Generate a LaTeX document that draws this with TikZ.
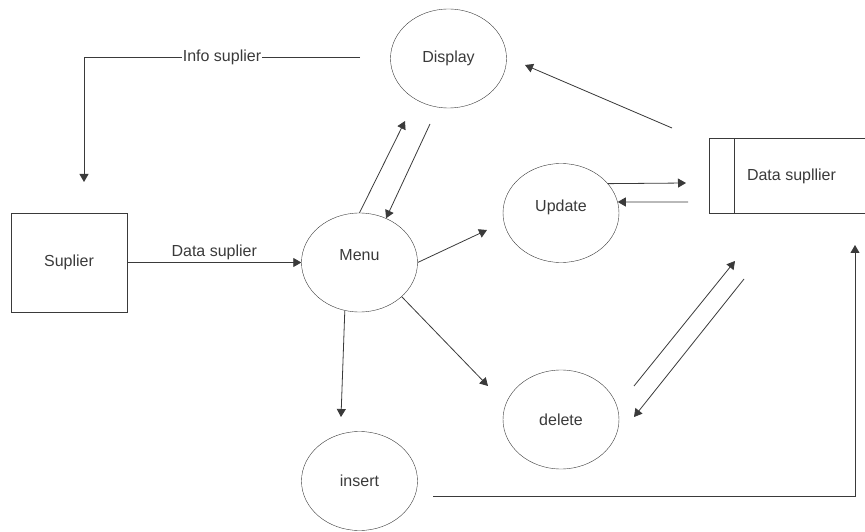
\documentclass[tikz,border=0pt]{standalone}
\usepackage{fontspec}
\setmainfont{Liberation Sans}
\usetikzlibrary{shapes.geometric, arrows.meta}
\definecolor{ink}{HTML}{3A3A3A}
\tikzstyle{proc} = [ellipse, minimum width=116pt, minimum height=99pt, inner sep=0pt, draw=ink, text=ink]
\tikzstyle{extent} = [rectangle, minimum width=116pt, minimum height=99pt, inner sep=0pt, draw=ink, text=ink]
\tikzstyle{store} = [rectangle, minimum width=163pt, minimum height=74pt, inner sep=0pt, text=ink]
\tikzstyle{arrow} = [line width=0.8pt, draw=ink, -{Triangle[length=8pt,width=9pt]}]

\begin{document}
\begin{tikzpicture}[x=1pt, y=1pt, font=\fontsize{16}{19}\selectfont]
\useasboundingbox (0,0) rectangle (865,531);

%Boxes
\node (display) [proc] at (448.5,472.5) {Display};
\node (menu) [proc] at (359.5,268.5) {\raisebox{15pt}{Menu}};
\node (insert) [proc] at (359.5,50) {insert};
\node (delete) [proc] at (561,111.5) {delete};
\node (update) [proc] at (561,318) {\raisebox{14pt}{Update}};
\node (suplier) [extent] at (69,268.5) {Suplier};
%data store
\node (datastore) [store] at (791.5,355) {Data supllier};
\draw [line width=0.8pt, ink] (datastore.north east) -- (datastore.north west) -- (datastore.south west) -- (datastore.south east);
\draw [line width=0.8pt, ink] ([xshift=25pt]datastore.north west) -- ([xshift=25pt]datastore.south west);

%free ends
\coordinate (infoA) at (360,474);
\coordinate (infoB) at (84,349);
\coordinate (menuUp) at (405,410);
\coordinate (dispDown) at (430,407);
\coordinate (menuRight) at (487,301);
\coordinate (menuDel) at (488,145);
\coordinate (menuIns) at (341,114);
\coordinate (updOut) at (686,348);
\coordinate (updIn) at (688,329);
\coordinate (delOutA) at (634,145);
\coordinate (delOutB) at (735,270);
\coordinate (delInA) at (744,252);
\coordinate (delInB) at (634,114);
\coordinate (insOut) at (433,35);
\coordinate (insTip) at (855,286);
\coordinate (storeOut) at (672,403);
\coordinate (storeTip) at (525,466);

%arrows
\draw [arrow] (infoA) -- node [fill=white, inner sep=1pt, text=ink] {Info suplier} (infoA -| infoB) -- (infoB);
\draw [arrow] (suplier.east) -- node [above, inner sep=2pt, text=ink] {Data suplier} (menu.west);
\draw [arrow] (menu.north) -- (menuUp);
\draw [arrow] (dispDown) -- (menu.59);
\draw [arrow] (menu.east) -- (menuRight);
\draw [arrow] (menu.-39) -- (menuDel);
\draw [arrow] (menu.-107) -- (menuIns);
\draw [arrow] (update.32) -- (updOut);
\draw [arrow] (updIn) -- (update.11);
\draw [arrow] (delOutA) -- (delOutB);
\draw [arrow] (delInA) -- (delInB);
\draw [arrow] (insOut) -- (insOut -| insTip) -- (insTip);
\draw [arrow] (storeOut) -- (storeTip);

\end{tikzpicture}
\end{document}
